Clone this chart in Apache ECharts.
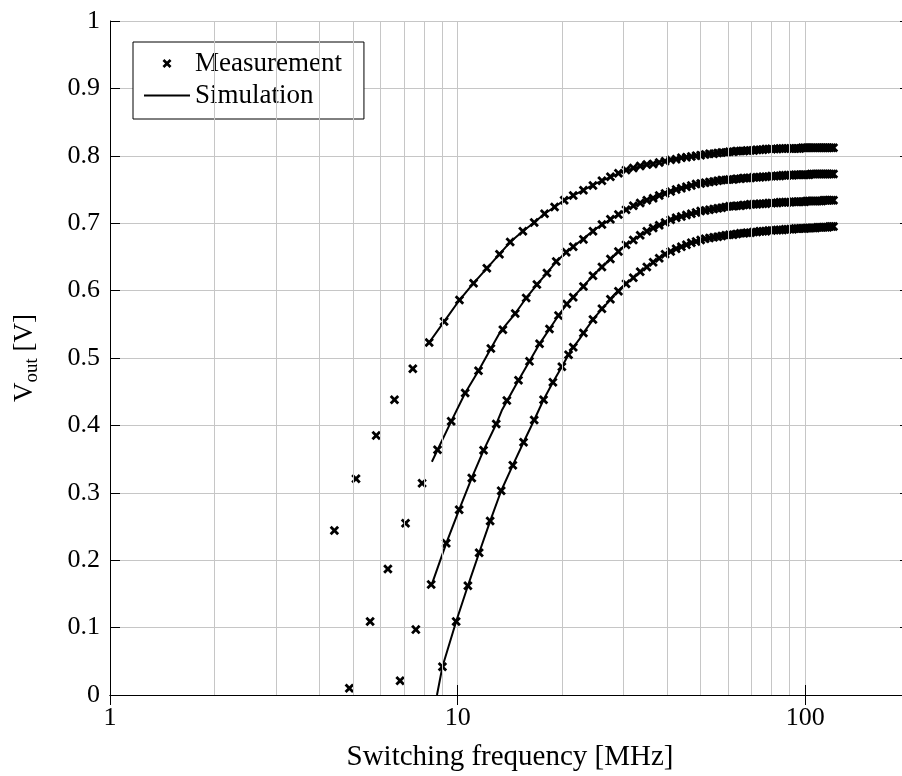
<!DOCTYPE html>
<html>
<head>
<meta charset="utf-8">
<script src="https://cdn.jsdelivr.net/npm/echarts@6/dist/echarts.min.js"></script>
<style>
  html, body { margin: 0; padding: 0; background: #fff; overflow: hidden; }
  #view { width: 920px; height: 776px; }
</style>
</head>
<body>
<div id="view"></div>
<script>
// measured points, low frequency part (each sweep has its own frequencies)
var lowF1 = [4.42, 5.10, 5.83, 6.58, 7.43, 8.28, 9.14, 10.12, 11.11, 12.13, 13.19, 14.16, 15.40, 16.60, 17.78, 19.0, 20.25];
var lowV1 = [0.244, 0.321, 0.385, 0.438, 0.484, 0.523, 0.554, 0.586, 0.611, 0.633, 0.654, 0.672, 0.688, 0.701, 0.714, 0.724, 0.734];
var lowF2 = [4.88, 5.60, 6.30, 7.08, 7.90, 8.75, 9.58, 10.51, 11.48, 12.46, 13.49, 14.64, 15.74, 16.90, 18.06, 19.21, 20.52];
var lowV2 = [0.010, 0.109, 0.187, 0.255, 0.314, 0.364, 0.406, 0.448, 0.481, 0.514, 0.542, 0.566, 0.589, 0.609, 0.626, 0.643, 0.657];
var lowF3 = [6.83, 7.58, 8.39, 9.27, 10.10, 10.98, 11.87, 12.91, 13.85, 14.96, 16.09, 17.20, 18.37, 19.50, 20.60];
var lowV3 = [0.021, 0.097, 0.164, 0.225, 0.275, 0.322, 0.363, 0.402, 0.437, 0.467, 0.495, 0.521, 0.543, 0.563, 0.580];
var lowF4 = [9.04, 9.90, 10.70, 11.53, 12.40, 13.34, 14.41, 15.47, 16.60, 17.66, 18.79, 19.94, 20.84];
var lowV4 = [0.042, 0.109, 0.162, 0.211, 0.258, 0.303, 0.341, 0.375, 0.408, 0.438, 0.464, 0.487, 0.505];

// measured points, high frequency part (dense, same frequencies for all sweeps)
var highF = [21.5, 23, 24.5, 26, 27.5, 29, 30.5, 32, 33.5, 35,
  36.5, 38, 39.5, 41, 42.5, 44, 45.5, 47, 48.5, 50,
  51.5, 53, 54.5, 56, 57.5, 59, 60.5, 62, 63.5, 65,
  66.5, 68, 69.5, 71, 72.5, 74, 75.5, 77, 78.5, 80,
  81.5, 83, 84.5, 86, 87.5, 89, 90.5, 92, 93.5, 95,
  96.5, 98, 99.5, 101, 102.5, 104, 105.5, 107, 108.5, 110,
  111.5, 113, 114.5, 116, 117.5, 119, 120.5];
var highV1 = [0.741, 0.749, 0.756, 0.763, 0.769, 0.774, 0.779, 0.782, 0.785, 0.787,
  0.788, 0.790, 0.792, 0.794, 0.795, 0.797, 0.798, 0.799, 0.800, 0.801,
  0.802, 0.803, 0.803, 0.804, 0.805, 0.805, 0.806, 0.806, 0.807, 0.807,
  0.807, 0.808, 0.808, 0.808, 0.809, 0.809, 0.809, 0.810, 0.810, 0.810,
  0.810, 0.810, 0.811, 0.811, 0.811, 0.811, 0.811, 0.811, 0.811, 0.811,
  0.811, 0.812, 0.812, 0.812, 0.812, 0.812, 0.812, 0.812, 0.812, 0.812,
  0.812, 0.812, 0.812, 0.812, 0.812, 0.812, 0.812];
var highV2 = [0.665, 0.676, 0.688, 0.698, 0.706, 0.713, 0.720, 0.726, 0.730, 0.734,
  0.737, 0.741, 0.744, 0.747, 0.750, 0.752, 0.754, 0.756, 0.758, 0.759,
  0.760, 0.761, 0.762, 0.763, 0.764, 0.764, 0.765, 0.765, 0.766, 0.766,
  0.767, 0.767, 0.767, 0.768, 0.768, 0.768, 0.769, 0.769, 0.769, 0.770,
  0.770, 0.770, 0.770, 0.771, 0.771, 0.771, 0.771, 0.771, 0.772, 0.772,
  0.772, 0.772, 0.772, 0.772, 0.772, 0.773, 0.773, 0.773, 0.773, 0.773,
  0.773, 0.773, 0.773, 0.773, 0.773, 0.773, 0.773];
var highV3 = [0.590, 0.606, 0.622, 0.635, 0.647, 0.658, 0.668, 0.675, 0.682, 0.688,
  0.693, 0.697, 0.701, 0.705, 0.708, 0.710, 0.712, 0.714, 0.716, 0.718,
  0.719, 0.720, 0.721, 0.722, 0.723, 0.724, 0.725, 0.725, 0.726, 0.726,
  0.727, 0.727, 0.728, 0.728, 0.728, 0.729, 0.729, 0.729, 0.730, 0.730,
  0.730, 0.730, 0.731, 0.731, 0.731, 0.731, 0.731, 0.732, 0.732, 0.732,
  0.732, 0.732, 0.732, 0.733, 0.733, 0.733, 0.733, 0.733, 0.733, 0.733,
  0.733, 0.734, 0.734, 0.734, 0.734, 0.734, 0.734];
var highV4 = [0.516, 0.537, 0.557, 0.573, 0.587, 0.599, 0.610, 0.619, 0.628, 0.635,
  0.642, 0.648, 0.654, 0.658, 0.662, 0.665, 0.668, 0.671, 0.673, 0.675,
  0.677, 0.678, 0.679, 0.680, 0.681, 0.682, 0.683, 0.683, 0.684, 0.685,
  0.685, 0.686, 0.686, 0.687, 0.687, 0.688, 0.688, 0.688, 0.689, 0.689,
  0.690, 0.690, 0.690, 0.690, 0.691, 0.691, 0.691, 0.691, 0.692, 0.692,
  0.692, 0.692, 0.692, 0.693, 0.693, 0.693, 0.693, 0.693, 0.694, 0.694,
  0.694, 0.694, 0.694, 0.694, 0.695, 0.695, 0.695];

// simulation curves
var simF1 = [8.28, 9.14, 10.12, 11.11, 12.13, 13.19, 14.16, 15.40, 16.60, 17.78, 19.0, 20.25, 25, 30, 35, 40, 45, 50, 60, 70, 80, 90, 100, 120.5];
var simV1 = [0.523, 0.554, 0.586, 0.611, 0.633, 0.654, 0.672, 0.688, 0.701, 0.714, 0.724, 0.734, 0.759, 0.777, 0.787, 0.7935, 0.798, 0.8015, 0.806, 0.8085, 0.810, 0.811, 0.8115, 0.812];
var simF2 = [8.43, 9.58, 10.51, 11.48, 12.46, 13.3, 14.64, 15.74, 16.90, 18.06, 19.21, 20.52, 25, 30, 35, 40, 45, 50, 60, 70, 80, 90, 100, 120.5];
var simV2 = [0.346, 0.406, 0.448, 0.481, 0.514, 0.540, 0.566, 0.589, 0.609, 0.626, 0.643, 0.657, 0.692, 0.718, 0.735, 0.747, 0.754, 0.759, 0.765, 0.768, 0.770, 0.7715, 0.772, 0.773];
var simF3 = [8.45, 9.27, 10.10, 10.98, 11.87, 12.91, 13.39, 14.96, 16.09, 17.2, 18.37, 19.5, 20.6, 25, 30, 35, 40, 45, 50, 60, 70, 80, 90, 100, 120.5];
var simV3 = [0.166, 0.225, 0.275, 0.322, 0.363, 0.402, 0.422, 0.467, 0.495, 0.521, 0.543, 0.563, 0.580, 0.627, 0.665, 0.688, 0.703, 0.712, 0.719, 0.725, 0.728, 0.730, 0.7315, 0.7325, 0.7335];
var simF4 = [8.72, 9.04, 9.90, 10.70, 11.53, 12.40, 13.34, 14.41, 15.47, 16.60, 17.66, 18.79, 19.94, 21.1, 22.4, 23.5, 24.6, 25.7, 26.9, 28.1, 29.5, 31, 35, 40, 45, 50, 60, 70, 80, 90, 100, 120.5];
var simV4 = [0.0, 0.042, 0.109, 0.162, 0.211, 0.258, 0.303, 0.341, 0.375, 0.408, 0.438, 0.464, 0.487, 0.510, 0.528, 0.544, 0.558, 0.570, 0.581, 0.593, 0.604, 0.613, 0.635, 0.656, 0.668, 0.675, 0.683, 0.6875, 0.690, 0.692, 0.693, 0.695];

// minor log grid lines
var minorX = [2, 3, 4, 5, 6, 7, 8, 9, 20, 30, 40, 50, 60, 70, 80, 90];

var font = "Liberation Serif";
var gridColor = "#c6c6c6";
var cross = "path://M0,2.1 L2.1,0 L5,2.9 L7.9,0 L10,2.1 L7.1,5 L10,7.9 L7.9,10 L5,7.1 L2.1,10 L0,7.9 L2.9,5 Z";

function pairs(f, v) {
  return f.map(function (x, i) { return [x, v[i]]; });
}

function measured(lf, lv, hv) {
  return {
    name: "Measurement",
    type: "scatter",
    symbol: cross,
    symbolSize: 9.5,
    itemStyle: { color: "#000", opacity: 1 },
    z: 4,
    silent: true,
    data: pairs(lf, lv).concat(pairs(highF, hv))
  };
}

function simulated(f, v) {
  return {
    name: "Simulation",
    type: "line",
    symbol: "none",
    lineStyle: { color: "#000", width: 2 },
    itemStyle: { color: "#000" },
    z: 3,
    silent: true,
    data: pairs(f, v)
  };
}

var option = {
  animation: false,
  backgroundColor: "#fff",
  grid: {
    left: 110,
    top: 21,
    width: 800,
    height: 674,
    containLabel: false,
    outerBoundsMode: "none"
  },
  legend: {
    data: [
      { name: "Measurement" },
      { name: "Simulation", itemStyle: { opacity: 0 } }
    ],
    orient: "vertical",
    left: 133,
    top: 42,
    padding: [8, 22, 10, 10],
    itemGap: 5,
    itemWidth: 46,
    itemHeight: 9,
    backgroundColor: "#fff",
    borderColor: "#000",
    borderWidth: 1,
    borderRadius: 0,
    selectedMode: false,
    textStyle: { fontFamily: font, fontSize: 27, color: "#000" }
  },
  xAxis: [{
    type: "log",
    logBase: 10,
    min: 1,
    max: 200,
    name: "Switching frequency [MHz]",
    nameLocation: "middle",
    nameGap: 48,
    nameTextStyle: { fontFamily: font, fontSize: 29, color: "#000" },
    axisLine: { lineStyle: { color: "#000", width: 1 } },
    axisTick: { inside: true, length: 10, lineStyle: { color: "#000" } },
    axisLabel: { fontFamily: font, fontSize: 26, color: "#000", margin: 10, showMaxLabel: false },
    splitLine: { show: true, showMaxLine: false, lineStyle: { color: gridColor, width: 1 } }
  },
  {
    type: "log",
    logBase: 10,
    min: 1,
    max: 200,
    position: "top",
    axisLine: { lineStyle: { color: "#000", width: 1 } },
    axisTick: { inside: true, length: 10, lineStyle: { color: "#000" } },
    axisLabel: { show: false },
    splitLine: { show: false }
  }],
  yAxis: [{
    type: "value",
    min: 0,
    max: 1,
    interval: 0.1,
    name: "{v|V}{s|out}{v| [V]}",
    nameLocation: "middle",
    nameRotate: 90,
    nameGap: 68,
    nameTextStyle: {
      fontFamily: font,
      color: "#000",
      rich: {
        v: { fontFamily: font, fontSize: 27, lineHeight: 31, verticalAlign: "top", color: "#000" },
        s: { fontFamily: font, fontSize: 19, lineHeight: 31, verticalAlign: "bottom", color: "#000" }
      }
    },
    axisLine: { show: true, lineStyle: { color: "#000", width: 1 } },
    axisTick: { show: true, inside: true, length: 10, lineStyle: { color: "#000" } },
    axisLabel: { fontFamily: font, fontSize: 26, color: "#000", margin: 10 },
    splitLine: { show: true, lineStyle: { color: gridColor, width: 1 } }
  },
  {
    type: "value",
    min: 0,
    max: 1,
    interval: 0.1,
    position: "right",
    axisLine: { show: true, lineStyle: { color: "#000", width: 1 } },
    axisTick: { show: true, inside: true, length: 10, lineStyle: { color: "#000" } },
    axisLabel: { show: false },
    splitLine: { show: false }
  }],
  series: [{
    name: "grid",
    type: "line",
    data: [],
    z: 1,
    silent: true,
    markLine: {
      silent: true,
      symbol: ["none", "none"],
      label: { show: false },
      lineStyle: { color: gridColor, width: 1, type: "solid" },
      data: minorX.map(function (x) { return { xAxis: x }; })
    }
  },
  simulated(simF1, simV1),
  simulated(simF2, simV2),
  simulated(simF3, simV3),
  simulated(simF4, simV4),
  measured(lowF1, lowV1, highV1),
  measured(lowF2, lowV2, highV2),
  measured(lowF3, lowV3, highV3),
  measured(lowF4, lowV4, highV4)
  ]
};

echarts.init(document.getElementById("view")).setOption(option);
</script>
</body>
</html>
